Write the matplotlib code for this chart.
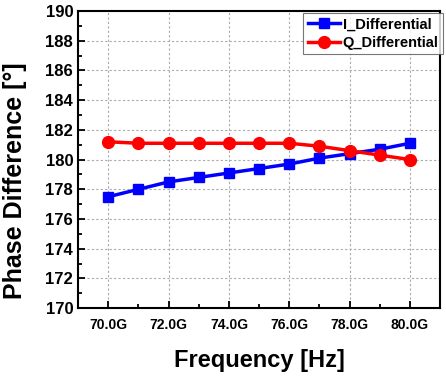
import matplotlib.pyplot as plt
from matplotlib.ticker import FuncFormatter, MultipleLocator

plt.rcParams["font.family"] = ["Liberation Sans", "DejaVu Sans"]
plt.rcParams["font.weight"] = "bold"

freq_ghz = [70, 71, 72, 73, 74, 75, 76, 77, 78, 79, 80]
i_diff = [177.5, 178.0, 178.5, 178.8, 179.1, 179.4, 179.7, 180.1, 180.4, 180.7, 181.1]
q_diff = [181.2, 181.1, 181.1, 181.1, 181.1, 181.1, 181.1, 180.9, 180.6, 180.3, 180.0]

fig = plt.figure(figsize=(4.46, 3.80), dpi=100)
ax = fig.add_axes([0.175, 0.189, 0.812, 0.782])

ax.plot(freq_ghz, i_diff, color="#0000ff", marker="s", markersize=7.5,
        linewidth=2.5, label="I_Differential")
ax.plot(freq_ghz, q_diff, color="#ff0000", marker="o", markersize=8.5,
        linewidth=2.5, label="Q_Differential")

ax.set_xlim(69, 81)
ax.set_ylim(170, 190)
ax.xaxis.set_major_locator(MultipleLocator(2))
ax.xaxis.set_minor_locator(MultipleLocator(1))
ax.yaxis.set_major_locator(MultipleLocator(2))
ax.yaxis.set_minor_locator(MultipleLocator(1))
ax.xaxis.set_major_formatter(FuncFormatter(lambda v, p: f"{v:.1f}G"))

ax.tick_params(which="both", direction="in", width=1.3)
ax.tick_params(which="major", length=5)
ax.tick_params(which="minor", length=3)
ax.tick_params(axis="x", labelsize=10, pad=7)
ax.tick_params(axis="y", labelsize=12)
for lab in ax.get_xticklabels() + ax.get_yticklabels():
    lab.set_fontweight("bold")
for s in ax.spines.values():
    s.set_linewidth(1.5)

ax.grid(True, which="major", linestyle=(0, (2, 2)), color="#aaaaaa", linewidth=0.8)

ax.set_xlabel("Frequency [Hz]", fontsize=17, fontweight="bold", labelpad=12)
ax.set_ylabel("Phase Difference [°]", fontsize=18, fontweight="bold")
ax.yaxis.set_label_coords(-0.14, 0.43)

leg = ax.legend(loc="upper right", bbox_to_anchor=(1.012, 0.998), fontsize=10.5,
                frameon=True, fancybox=False, edgecolor="#555555",
                borderpad=0.3, handlelength=2.2, handletextpad=0.2,
                labelspacing=0.3, borderaxespad=0.1)
leg.get_frame().set_linewidth(0.8)
for t in leg.get_texts():
    t.set_fontweight("bold")

fig.savefig("out.png", dpi=100)
